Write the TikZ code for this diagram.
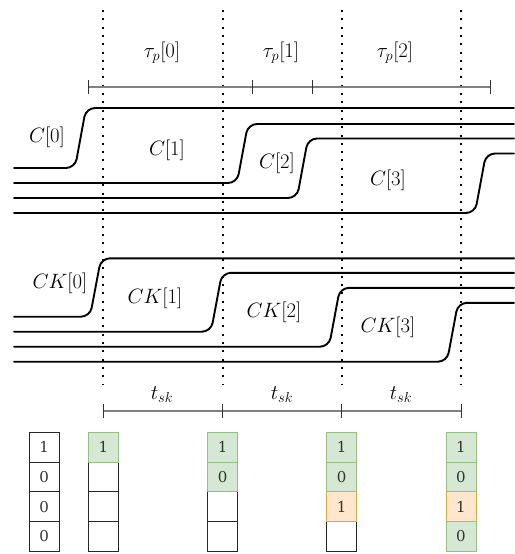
\documentclass[tikz,border=0pt]{standalone}
\usepackage{fontspec}
\newfontfamily\cellfont{DejaVu Serif}
\begin{document}
\begin{tikzpicture}[x=1pt,y=-1pt,
  signal/.style={line width=1.9pt,rounded corners=9pt,line cap=round},
  guide/.style={line width=2pt,dash pattern=on 2pt off 6.3pt,black},
  dimline/.style={line width=1.1pt,black!50},
  dimtick/.style={line width=1pt,black!80},
  lbl/.style={font=\fontsize{21}{25}\selectfont,inner sep=0pt},
  cell/.style={draw=black!85,line width=1pt,minimum width=30pt,minimum height=29.7pt,
    inner sep=0pt,outer sep=0pt,font=\cellfont\fontsize{15}{17}\selectfont,text=black!80},
  done/.style={cell,fill={rgb,255:red,213;green,232;blue,212},draw={rgb,255:red,150;green,190;blue,130}},
  cur/.style={cell,fill={rgb,255:red,255;green,230;blue,204},draw={rgb,255:red,225;green,170;blue,60}},
  empty/.style={cell,fill=white}]
\useasboundingbox (0,0) rectangle (514,554);

% vertical guides
\foreach \x/\n in {103.3/g0,222.7/g1,341.7/g2,461/g3}{
  \coordinate (\n t) at (\x,10);
  \coordinate (\n b) at (\x,385);
  \draw[guide] (\n t) -- (\n b);
}

% tau_p dimension line
\coordinate (p0) at (88.3,87);
\coordinate (p1) at (252.3,87);
\coordinate (p2) at (312,87);
\coordinate (p3) at (490,87);
\draw[dimline] (p0) -- (p3);
\foreach \p in {p0,p1,p2,p3}{
  \draw[dimtick] ([yshift=-7pt]\p) -- ([yshift=7pt]\p);
}
\node[lbl] (tau0) at (162,53) {$\tau_p[0]$};
\node[lbl] (tau1) at (281,53) {$\tau_p[1]$};
\node[lbl] (tau2) at (395,53) {$\tau_p[2]$};

% C signals
\draw[signal] (14,168) -- (75,168) -- (86,108) -- (514,108);
\draw[signal] (14,183) -- (237,183) -- (248,124) -- (514,124);
\draw[signal] (14,198) -- (297,198) -- (308,138.5) -- (514,138.5);
\draw[signal] (14,213) -- (475,213) -- (486,153.5) -- (514,153.5);
\node[lbl] (c0) at (47,137) {$C[0]$};
\node[lbl] (c1) at (167,150) {$C[1]$};
\node[lbl] (c2) at (277,163) {$C[2]$};
\node[lbl] (c3) at (388,180) {$C[3]$};

% CK signals
\draw[signal] (14,316.7) -- (90,316.7) -- (101,258.3) -- (514,258.3);
\draw[signal] (14,331.7) -- (211,331.7) -- (222,272.8) -- (514,272.8);
\draw[signal] (14,346.7) -- (329,346.7) -- (340,287.8) -- (514,287.8);
\draw[signal] (14,361.7) -- (447,361.7) -- (458,302.8) -- (514,302.8);
\node[lbl] (ck0) at (60,283) {$CK[0]$};
\node[lbl] (ck1) at (155,298) {$CK[1]$};
\node[lbl] (ck2) at (274,312) {$CK[2]$};
\node[lbl] (ck3) at (388,327) {$CK[3]$};

% t_sk dimension line
\coordinate (s0) at (103.3,411);
\coordinate (s1) at (222.7,411);
\coordinate (s2) at (341.7,411);
\coordinate (s3) at (461,411);
\draw[dimline] (s0) -- (s3);
\foreach \s in {s0,s1,s2,s3}{
  \draw[dimtick] ([yshift=-7pt]\s) -- ([yshift=7pt]\s);
}
\node[lbl] (tsk0) at (162,395) {$t_{sk}$};
\node[lbl] (tsk1) at (282,395) {$t_{sk}$};
\node[lbl] (tsk2) at (401,395) {$t_{sk}$};

% register columns
\node[cell] (a0) at (44.2,447.2) {1};
\node[cell] (a1) at (44.2,476.9) {0};
\node[cell] (a2) at (44.2,506.6) {0};
\node[cell] (a3) at (44.2,536.3) {0};

\node[empty] (b1) at (103.3,476.9) {};
\node[empty] (b2) at (103.3,506.6) {};
\node[empty] (b3) at (103.3,536.3) {};
\node[done]  (b0) at (103.3,447.2) {1};

\node[empty] (d2) at (222.7,506.6) {};
\node[empty] (d3) at (222.7,536.3) {};
\node[done]  (d0) at (222.7,447.2) {1};
\node[done]  (d1) at (222.7,476.9) {0};

\node[empty] (e3) at (341.7,536.3) {};
\node[done]  (e0) at (341.7,447.2) {1};
\node[done]  (e1) at (341.7,476.9) {0};
\node[cur]   (e2) at (341.7,506.6) {1};

\node[done]  (f0) at (461,447.2) {1};
\node[done]  (f1) at (461,476.9) {0};
\node[done]  (f3) at (461,536.3) {0};
\node[cur]   (f2) at (461,506.6) {1};
\end{tikzpicture}
\end{document}
